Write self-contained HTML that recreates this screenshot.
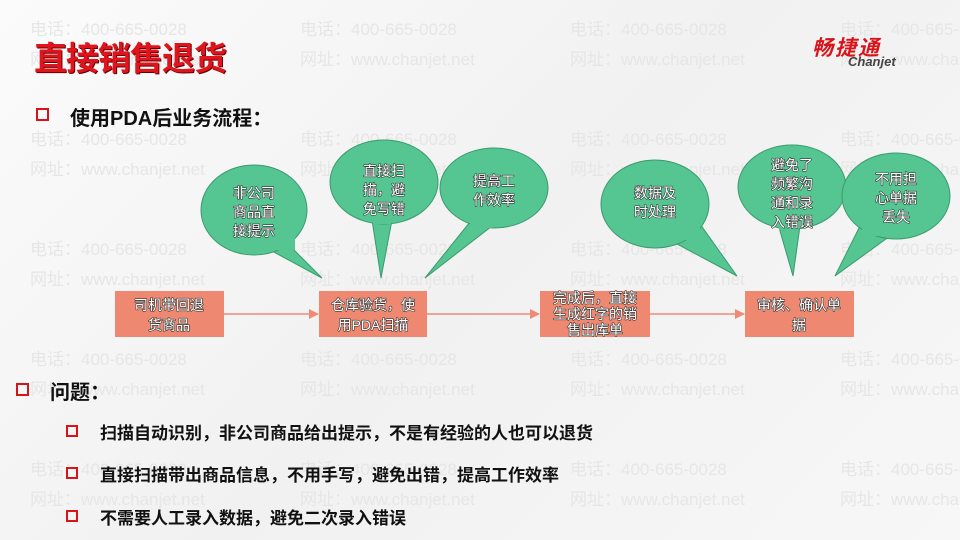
<!DOCTYPE html>
<html><head><meta charset="utf-8"><style>
html,body{margin:0;width:960px;height:540px;overflow:hidden}
#w{position:relative;width:960px;height:540px;overflow:hidden;background:linear-gradient(135deg,#fbfbfb,#f1f1f1 50%,#f7f7f7);font-family:"Liberation Sans","Noto Sans CJK SC",sans-serif}
.wm{position:absolute;color:#e6e6e6;font-size:17px;line-height:30px;white-space:nowrap}
.t{position:absolute;font-weight:bold}
.sq{position:absolute;width:9px;height:9px;border:2px solid #d8141a}
</style></head><body><div id="w">
<div class="wm" style="left:30px;top:15px">电话：400-665-0028<br>网址：www.chanjet.net</div>
<div class="wm" style="left:300px;top:15px">电话：400-665-0028<br>网址：www.chanjet.net</div>
<div class="wm" style="left:570px;top:15px">电话：400-665-0028<br>网址：www.chanjet.net</div>
<div class="wm" style="left:840px;top:15px">电话：400-665-0028<br>网址：www.chanjet.net</div>
<div class="wm" style="left:30px;top:125px">电话：400-665-0028<br>网址：www.chanjet.net</div>
<div class="wm" style="left:300px;top:125px">电话：400-665-0028<br>网址：www.chanjet.net</div>
<div class="wm" style="left:570px;top:125px">电话：400-665-0028<br>网址：www.chanjet.net</div>
<div class="wm" style="left:840px;top:125px">电话：400-665-0028<br>网址：www.chanjet.net</div>
<div class="wm" style="left:30px;top:235px">电话：400-665-0028<br>网址：www.chanjet.net</div>
<div class="wm" style="left:300px;top:235px">电话：400-665-0028<br>网址：www.chanjet.net</div>
<div class="wm" style="left:570px;top:235px">电话：400-665-0028<br>网址：www.chanjet.net</div>
<div class="wm" style="left:840px;top:235px">电话：400-665-0028<br>网址：www.chanjet.net</div>
<div class="wm" style="left:30px;top:345px">电话：400-665-0028<br>网址：www.chanjet.net</div>
<div class="wm" style="left:300px;top:345px">电话：400-665-0028<br>网址：www.chanjet.net</div>
<div class="wm" style="left:570px;top:345px">电话：400-665-0028<br>网址：www.chanjet.net</div>
<div class="wm" style="left:840px;top:345px">电话：400-665-0028<br>网址：www.chanjet.net</div>
<div class="wm" style="left:30px;top:455px">电话：400-665-0028<br>网址：www.chanjet.net</div>
<div class="wm" style="left:300px;top:455px">电话：400-665-0028<br>网址：www.chanjet.net</div>
<div class="wm" style="left:570px;top:455px">电话：400-665-0028<br>网址：www.chanjet.net</div>
<div class="wm" style="left:840px;top:455px">电话：400-665-0028<br>网址：www.chanjet.net</div>

<div class="t" style="left:34px;top:32px;font-size:33px;color:#e0141c;letter-spacing:-1px;text-shadow:1px 1px 0 #600">直接销售退货</div>
<div style="position:absolute;left:812px;top:32px;color:#d8141a;font-size:21px;font-style:italic;font-weight:bold;letter-spacing:2px">畅捷通</div>
<div style="position:absolute;left:848px;top:54px;color:#444;font-size:13px;font-style:italic;font-weight:bold">Chanjet</div>

<div class="sq" style="left:36px;top:108px"></div>
<div class="t" style="left:70px;top:102px;font-size:20px;color:#111">使用PDA后业务流程：</div>

<svg width="960" height="540" style="position:absolute;left:0;top:0" font-family="Liberation Sans,Noto Sans CJK SC,sans-serif">
<defs><marker id="a" markerWidth="10" markerHeight="10" refX="9" refY="5" orient="auto" markerUnits="userSpaceOnUse"><path d="M0,0L10,5L0,10z" fill="#ee8a76"/></marker></defs>
<g fill="#55c591" stroke="#3a9a6e" stroke-width="1">
<path d="M270,250 L322,278 L290,246 Z"/><ellipse cx="254" cy="210" rx="53" ry="45"/>
<path d="M372,220 L381,278 L392,220 Z"/><ellipse cx="384" cy="182" rx="54" ry="42"/>
<path d="M470,222 L425,278 L492,226 Z"/><ellipse cx="494" cy="188" rx="54" ry="40"/>
<path d="M662,236 L737,276 L700,224 Z"/><ellipse cx="655" cy="204" rx="54" ry="44"/>
<path d="M778,224 L793,276 L800,226 Z"/><ellipse cx="792" cy="187" rx="54" ry="42"/>
<path d="M860,226 L835,276 L890,236 Z"/><ellipse cx="896" cy="196" rx="54" ry="43"/>
</g>
<g stroke="none" fill="#55c591">
<rect x="270" y="236" width="25" height="14"/><rect x="373" y="212" width="18" height="12"/><rect x="470" y="216" width="22" height="12"/>
<rect x="662" y="228" width="38" height="12"/><rect x="779" y="220" width="20" height="10"/><rect x="862" y="224" width="28" height="12"/>
</g>
<g fill="#fff" font-size="14" text-anchor="middle" stroke="#333" stroke-width="1.2" paint-order="stroke" stroke-linejoin="round">
<text x="254" y="198">非公司</text><text x="254" y="217">商品直</text><text x="254" y="236">接提示</text>
<text x="384" y="176">直接扫</text><text x="384" y="195">描，避</text><text x="384" y="214">免写错</text>
<text x="494" y="186">提高工</text><text x="494" y="205">作效率</text>
<text x="655" y="198">数据及</text><text x="655" y="217">时处理</text>
<text x="792" y="170">避免了</text><text x="792" y="189">频繁沟</text><text x="792" y="208">通和录</text><text x="792" y="227">入错误</text>
<text x="896" y="184">不用担</text><text x="896" y="203">心单据</text><text x="896" y="222">丢失</text>
</g>
<g stroke="#ee8a76" stroke-width="1.5" marker-end="url(#a)">
<line x1="224" y1="314" x2="318" y2="314"/><line x1="427" y1="314" x2="539" y2="314"/><line x1="650" y1="314" x2="744" y2="314"/>
</g>
<g fill="#ef8870"><rect x="115" y="291" width="109" height="46"/><rect x="319" y="291" width="108" height="46"/><rect x="540" y="291" width="110" height="46"/><rect x="745" y="291" width="109" height="46"/></g>
<g fill="#fff" font-size="14" text-anchor="middle" stroke="#333" stroke-width="1.2" paint-order="stroke" stroke-linejoin="round">
<text x="169" y="310">司机带回退</text><text x="169" y="330">货商品</text>
<text x="373" y="310">仓库验货，使</text><text x="373" y="330">用PDA扫描</text>
<text x="595" y="303">完成后，直接</text><text x="595" y="319">生成红字的销</text><text x="595" y="335">售出库单</text>
<text x="799" y="310">审核、确认单</text><text x="799" y="330">据</text>
</g>
</svg>

<div class="sq" style="left:16px;top:383px"></div>
<div class="t" style="left:50px;top:376px;font-size:20px;color:#111">问题：</div>
<div class="sq" style="left:66px;top:425px;width:8px;height:8px"></div>
<div class="t" style="left:100px;top:419px;font-size:17px;color:#111">扫描自动识别，非公司商品给出提示，不是有经验的人也可以退货</div>
<div class="sq" style="left:66px;top:467px;width:8px;height:8px"></div>
<div class="t" style="left:100px;top:461px;font-size:17px;color:#111">直接扫描带出商品信息，不用手写，避免出错，提高工作效率</div>
<div class="sq" style="left:66px;top:510px;width:8px;height:8px"></div>
<div class="t" style="left:100px;top:504px;font-size:17px;color:#111">不需要人工录入数据，避免二次录入错误</div>
</div></body></html>
